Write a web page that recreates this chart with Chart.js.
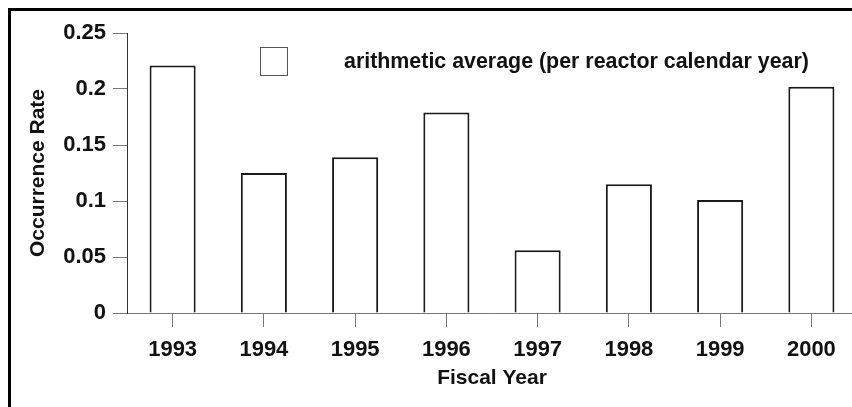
<!DOCTYPE html>
<html>
<head>
<meta charset="utf-8">
<script src="https://cdn.jsdelivr.net/npm/chart.js@4"></script>
<style>
    html, body { margin: 0; padding: 0; background: #fff; overflow: hidden; }
    #wrap { position: absolute; left: 0; top: 0; width: 880px; height: 407px; }
    #frame { position: absolute; left: 8px; top: 8px; width: 900px; height: 500px; border: 3px solid #000; pointer-events: none; }
</style>
</head>
<body>
<div id="wrap"><canvas id="rateChart"></canvas></div>
<div id="frame"></div>
<script>
const years = ['1993', '1994', '1995', '1996', '1997', '1998', '1999', '2000'];
const occurrenceRate = [0.221, 0.125, 0.139, 0.179, 0.056, 0.115, 0.101, 0.202];
const yTicks = [0, 0.05, 0.1, 0.15, 0.2, 0.25];
const seriesLabel = 'arithmetic average (per reactor calendar year)';

Chart.defaults.font.family = '"Liberation Sans", Arial, sans-serif';
Chart.defaults.color = '#111';

// legend drawn inside the plot, box and text spaced like the original
const legendPlugin = {
    id: 'insideLegend',
    afterDraw(chart) {
        const ctx = chart.ctx;
        ctx.save();
        ctx.strokeStyle = '#555';
        ctx.lineWidth = 1;
        ctx.strokeRect(260.5, 47.5, 27, 28);
        ctx.fillStyle = '#111';
        ctx.font = 'bold 21.4px "Liberation Sans", Arial, sans-serif';
        ctx.textBaseline = 'middle';
        ctx.textAlign = 'left';
        ctx.fillText(chart.data.datasets[0].label, 344, 62);
        ctx.restore();
    }
};

const tickFont = { size: 22, weight: 'bold' };
const titleFont = { size: 21, weight: 'bold' };

new Chart(document.getElementById('rateChart'), {
    type: 'bar',
    data: {
        labels: years,
        datasets: [{
            label: seriesLabel,
            data: occurrenceRate,
            backgroundColor: '#fff',
            borderColor: '#1a1a1a',
            borderWidth: 2,
            barPercentage: 0.505,
            categoryPercentage: 1
        }]
    },
    options: {
        responsive: true,
        maintainAspectRatio: false,
        animation: false,
        layout: { padding: { left: 0, top: 33, right: 23, bottom: 0 } },
        plugins: {
            legend: { display: false },
            tooltip: { enabled: false }
        },
        scales: {
            x: {
                grid: {
                    offset: false,
                    drawOnChartArea: false,
                    drawTicks: true,
                    tickLength: 14,
                    color: '#777'
                },
                border: { display: true, color: '#777', width: 1 },
                ticks: { font: tickFont, padding: 10, color: '#111' },
                title: {
                    display: true,
                    text: 'Fiscal Year',
                    font: titleFont,
                    color: '#111',
                    padding: { top: 0, bottom: 16 }
                },
                afterFit(scale) { scale.height = 94; }
            },
            y: {
                min: 0,
                max: 0.25,
                afterBuildTicks(scale) {
                    scale.ticks = yTicks.map(v => ({ value: v }));
                },
                grid: {
                    drawOnChartArea: false,
                    drawTicks: true,
                    tickLength: 14,
                    color: '#777'
                },
                border: { display: true, color: '#333', width: 1 },
                ticks: {
                    font: tickFont,
                    padding: 7,
                    color: '#111',
                    callback: v => String(Number(v.toFixed(2)))
                },
                title: {
                    display: true,
                    text: 'Occurrence Rate',
                    font: titleFont,
                    color: '#111',
                    padding: { top: 26, bottom: 0 }
                },
                afterFit(scale) { scale.width = 127; }
            }
        }
    },
    plugins: [legendPlugin]
});
</script>
</body>
</html>
